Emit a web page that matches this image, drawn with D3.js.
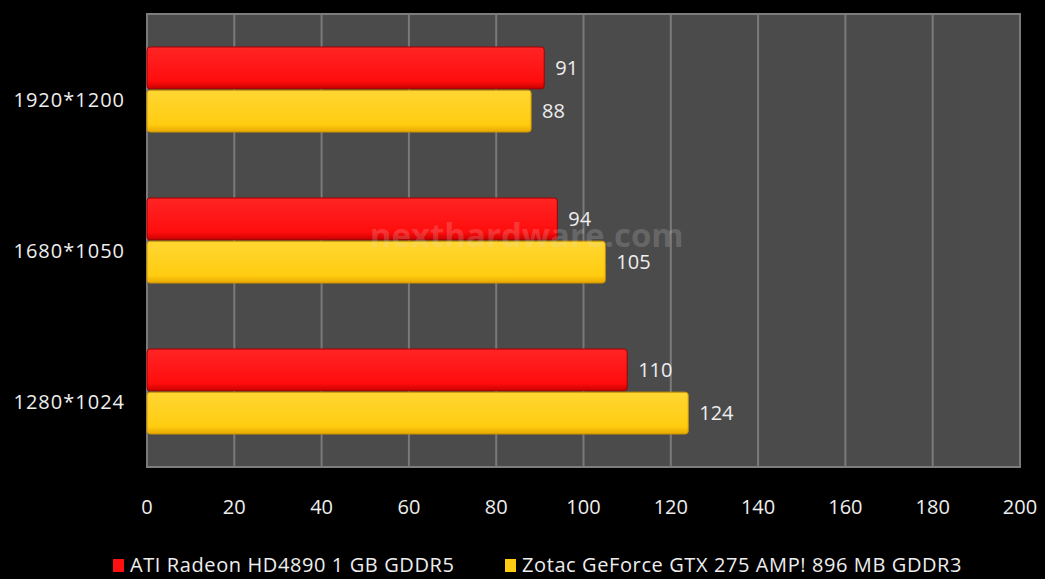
<!DOCTYPE html>
<html>
<head>
<meta charset="utf-8">
<script src="https://cdn.jsdelivr.net/npm/d3@7"></script>
<style>
  body { margin: 0; background: #000; }
  svg { display: block; font-family: "Open Sans", "DejaVu Sans", sans-serif; }
</style>
</head>
<body>
<svg id="chart" width="1045" height="579"></svg>
<script>
const categories = ["1920*1200", "1680*1050", "1280*1024"];
const seriesNames = ["ATI Radeon HD4890 1 GB GDDR5", "Zotac GeForce GTX 275 AMP! 896 MB GDDR3"];
const ati = [91, 94, 110];
const zotac = [88, 105, 124];
const xTicks = [0, 20, 40, 60, 80, 100, 120, 140, 160, 180, 200];

const svg = d3.select("#chart"),
    margin = { top: 14, right: 25, bottom: 112, left: 147 },
    width = 1045 - margin.left - margin.right,
    height = 579 - margin.top - margin.bottom;

const colors = ["#ff1010", "#ffcc12"];
const series = [ati, zotac];

const defs = svg.append("defs");
const grads = [
    ["red", "#ff2424", "#ff0d0d", "#c80000"],
    ["yel", "#ffd632", "#ffcc10", "#e9a800"]
];
grads.forEach(function (g) {
    const lg = defs.append("linearGradient")
        .attr("id", g[0]).attr("x1", 0).attr("y1", 0).attr("x2", 0).attr("y2", 1);
    lg.append("stop").attr("offset", "0%").attr("stop-color", g[1]);
    lg.append("stop").attr("offset", "82%").attr("stop-color", g[2]);
    lg.append("stop").attr("offset", "100%").attr("stop-color", g[3]);
});

const x = d3.scaleLinear().domain([0, 200]).range([0, width]);
const y = d3.scaleBand().domain(categories).range([0, height]).paddingInner(0).paddingOuter(0);
const inner = d3.scaleBand().domain([0, 1]).range([33, 33 + 85]).paddingInner(0.03);

const g = svg.append("g").attr("transform", "translate(" + margin.left + "," + margin.top + ")");

// plot background
g.append("rect")
    .attr("x", 0).attr("y", 0)
    .attr("width", width).attr("height", height)
    .attr("fill", "#4b4b4b")
    .attr("stroke", "#7d7d7d")
    .attr("stroke-width", 2);

// vertical gridlines
g.append("g").selectAll("line")
    .data(xTicks)
    .enter()
    .append("line")
    .attr("x1", function (d) { return x(d); })
    .attr("x2", function (d) { return x(d); })
    .attr("y1", 0).attr("y2", height)
    .attr("stroke", "#7a7a7a")
    .attr("stroke-width", 2);

// bars
series.forEach(function (vals, si) {
    const grp = g.append("g");
    grp.selectAll("rect")
        .data(vals)
        .enter()
        .append("rect")
        .attr("x", 0)
        .attr("y", function (d, i) { return y(categories[i]) + inner(si); })
        .attr("width", function (d) { return x(d); })
        .attr("height", inner.bandwidth())
        .attr("rx", 3)
        .attr("fill", si === 0 ? "url(#red)" : "url(#yel)")
        .attr("stroke", si === 0 ? "#a00000" : "#c99400")
        .attr("stroke-width", 1);

    grp.selectAll("text")
        .data(vals)
        .enter()
        .append("text")
        .attr("x", function (d) { return x(d) + 11; })
        .attr("y", function (d, i) { return y(categories[i]) + inner(si) + inner.bandwidth() / 2 + 7; })
        .attr("fill", "#eeeeee")
        .attr("font-size", 20)
        .text(function (d) { return d; });
});

// watermark
g.append("text")
    .attr("x", x(87))
    .attr("y", 233)
    .attr("text-anchor", "middle")
    .attr("font-size", 33)
    .attr("font-weight", "bold")
    .attr("fill", "#dddddd")
    .attr("fill-opacity", 0.2)
    .text("nexthardware.com");

// category labels
g.append("g").selectAll("text")
    .data(categories)
    .enter()
    .append("text")
    .attr("x", -22)
    .attr("y", function (d) { return y(d) + y.bandwidth() / 2 + 17; })
    .attr("text-anchor", "end")
    .attr("fill", "#eeeeee")
    .attr("font-size", 20)
    .attr("letter-spacing", 1)
    .text(function (d) { return d; });

// x tick labels
g.append("g").selectAll("text")
    .data(xTicks)
    .enter()
    .append("text")
    .attr("x", function (d) { return x(d); })
    .attr("y", height + 47)
    .attr("text-anchor", "middle")
    .attr("fill", "#eeeeee")
    .attr("font-size", 20)
    .text(function (d) { return d; });

// legend
const legend = svg.append("g");
const legendX = [113, 505];
seriesNames.forEach(function (name, i) {
    const lg = legend.append("g").attr("transform", "translate(" + legendX[i] + ",558)");
    lg.append("rect")
        .attr("x", 0).attr("y", 1)
        .attr("width", 11).attr("height", 13)
        .attr("fill", colors[i]);
    lg.append("text")
        .attr("x", 17).attr("y", 14)
        .attr("fill", "#eeeeee")
        .attr("font-size", 20)
        .attr("letter-spacing", 0.6)
        .text(name);
});
</script>
</body>
</html>
